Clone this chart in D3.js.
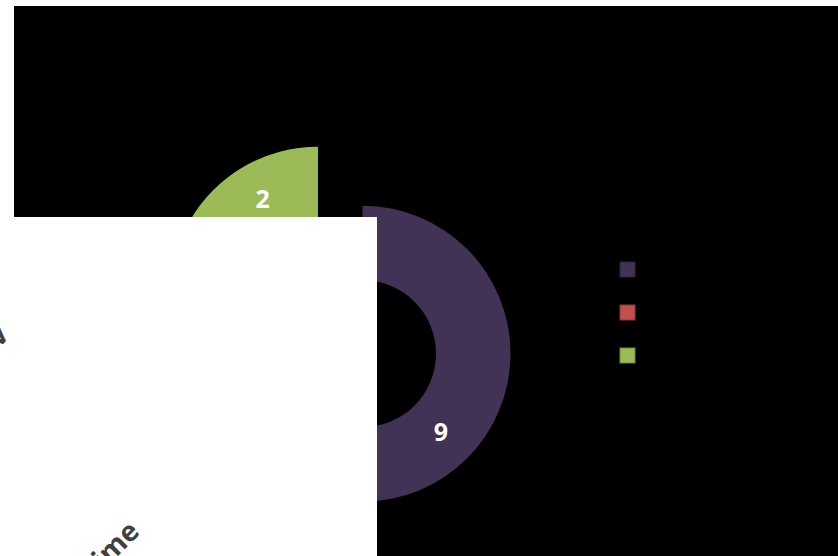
<!DOCTYPE html>
<html>
<head>
<meta charset="utf-8">
<script src="https://cdn.jsdelivr.net/npm/d3@7"></script>
<style>
  body { margin: 0; background: #fff; }
  svg { display: block; }
</style>
</head>
<body>
<svg width="838" height="556"></svg>
<script>
var categories = ["Series A", "Series B", "Series C"];
var values = [9, 1, 2];
var colors = ["#423256", "#c0504d", "#9bbb59"];
var borders = ["#2e2340", "#8c3a38", "#6f8a3e"];

var svg = d3.select("svg"),
    width = 838,
    height = 556;

// black chart area
svg.append("rect")
    .attr("x", 14).attr("y", 6)
    .attr("width", width - 14).attr("height", height - 6)
    .attr("fill", "#000");

var cx = 362.5, cy = 353.7,
    outer = 148, inner = 73.5;

var pie = d3.pie().sort(null).value(d => d);
var arc = d3.arc().innerRadius(inner).outerRadius(outer);
var arcs = pie(values);

// the last point is pulled out of the ring
var explode = [[0, 0], [0, 0], [-44.5, -59]];

var g = svg.append("g").attr("transform", "translate(" + cx + "," + cy + ")");

var slices = g.selectAll(".slice")
    .data(arcs)
    .join("g")
    .attr("class", "slice")
    .attr("transform", (d, i) => "translate(" + explode[i][0] + "," + explode[i][1] + ")");

slices.append("path")
    .attr("d", arc)
    .attr("fill", (d, i) => colors[i]);

slices.append("text")
    .attr("transform", d => "translate(" + arc.centroid(d) + ")")
    .attr("text-anchor", "middle")
    .attr("dy", "0.36em")
    .attr("fill", "#fff")
    .style("font-family", "'Open Sans', sans-serif")
    .style("font-weight", "bold")
    .style("font-size", "25px")
    .text(d => d.data);

// legend
var legend = svg.append("g").attr("transform", "translate(620,262)");
legend.selectAll("rect")
    .data(categories)
    .join("rect")
    .attr("x", 0)
    .attr("y", (d, i) => i * 43)
    .attr("width", 15).attr("height", 15)
    .attr("fill", (d, i) => colors[i])
    .attr("stroke", (d, i) => borders[i])
    .attr("stroke-width", 1);

// white panel lying over the chart
svg.append("rect")
    .attr("x", 0).attr("y", 217)
    .attr("width", 377).attr("height", height - 217)
    .attr("fill", "#fff");

svg.append("text")
    .attr("transform", "translate(141,533) rotate(-45)")
    .attr("text-anchor", "end")
    .attr("fill", "#404040")
    .style("font-family", "'Open Sans', sans-serif")
    .style("font-weight", "bold")
    .style("font-size", "28px")
    .text("Time");

svg.append("text")
    .attr("transform", "translate(10,337) rotate(-45)")
    .attr("text-anchor", "end")
    .attr("fill", "#404040")
    .style("font-family", "'Open Sans', sans-serif")
    .style("font-weight", "bold")
    .style("font-size", "28px")
    .text("Dev");
</script>
</body>
</html>
